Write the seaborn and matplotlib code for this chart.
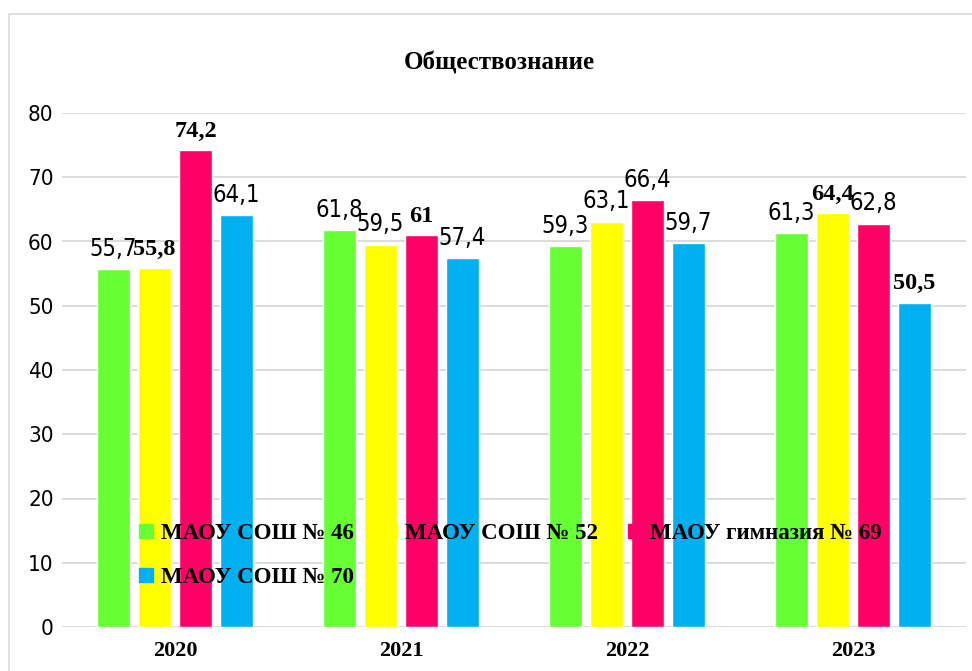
import matplotlib
matplotlib.use("Agg")
import matplotlib.pyplot as plt
from matplotlib.patches import Rectangle
from matplotlib.lines import Line2D
import seaborn as sns
import pandas as pd

# Exam results by school and year
years = ["2020", "2021", "2022", "2023"]
schools = ["МАОУ СОШ № 46", "МАОУ СОШ № 52", "МАОУ гимназия № 69", "МАОУ СОШ № 70"]
school46 = [55.7, 61.8, 59.3, 61.3]
school52 = [55.8, 59.5, 63.1, 64.4]
gymn69 = [74.2, 61.0, 66.4, 62.8]
school70 = [64.1, 57.4, 59.7, 50.5]
colors = ["#66FF33", "#FFFF00", "#FF0066", "#00B0F0"]
title = "Обществознание"

# labels printed in bold serif (per school, per year)
bold_labels = [
    [False, False, False, False],
    [True, False, False, True],
    [True, True, False, False],
    [False, False, False, True],
]

series = [school46, school52, gymn69, school70]
df = pd.DataFrame(
    [(y, s, v) for s, vals in zip(schools, series) for y, v in zip(years, vals)],
    columns=["year", "school", "score"],
)

sns.set_theme(style="white")
plt.rcParams["font.family"] = ["DejaVu Sans"]
plt.rcParams["text.color"] = "black"
plt.rcParams["xtick.color"] = "black"
plt.rcParams["ytick.color"] = "black"

W, H = 972, 671
fig = plt.figure(figsize=(W / 100, H / 100), dpi=100)
ax = fig.add_axes([62 / W, 1 - 627 / H, (966 - 62) / W, (627 - 113) / H])

sns.barplot(
    data=df, x="year", y="score", hue="school", order=years, hue_order=schools,
    palette=colors, width=0.726, gap=0.2, saturation=1, ax=ax, legend=False,
)

ax.set_xlim(-0.5, 3.5)
ax.set_ylim(0, 80)
ax.set_yticks(range(0, 81, 10))
ax.set_xlabel("")
ax.set_ylabel("")
for sp in ax.spines.values():
    sp.set_visible(False)
ax.grid(axis="y", color="#D9D9D9", linewidth=1.3)
ax.set_axisbelow(True)
ax.tick_params(axis="both", length=0)
ax.tick_params(axis="y", pad=6)
ax.tick_params(axis="x", pad=10)

for lbl in ax.get_yticklabels():
    lbl.set_fontfamily("DejaVu Sans")
    lbl.set_fontstretch("condensed")
    lbl.set_fontsize(16)
    lbl.set_color("black")
for lbl in ax.get_xticklabels():
    lbl.set_fontfamily("Liberation Serif")
    lbl.set_fontweight("bold")
    lbl.set_fontsize(16)
    lbl.set_color("black")

def fmt(v):
    s = f"{v:.1f}".replace(".", ",")
    return s[:-2] if s.endswith(",0") else s

for ci, cont in enumerate(ax.containers):
    texts = ax.bar_label(cont, labels=[fmt(v) for v in series[ci]], padding=6,
                         color="black")
    for yi, t in enumerate(texts):
        if bold_labels[ci][yi]:
            t.set_fontfamily("Liberation Serif")
            t.set_fontweight("bold")
            t.set_fontsize(17.5)
        else:
            t.set_fontfamily("DejaVu Sans")
            t.set_fontstretch("condensed")
            t.set_fontsize(17)

handles = [Line2D([], [], marker="s", linestyle="none", markersize=10,
                  markerfacecolor=c, markeredgecolor=c) for c in colors]
# legend is filled column by column; order so rows read 46, 52, 69 / 70
order = [0, 3, 1, 2]
leg = ax.legend(
    [handles[i] for i in order], [schools[i] for i in order],
    ncol=3, loc="upper left",
    bbox_to_anchor=(139 / W, 1 - 523 / H), bbox_transform=fig.transFigure,
    frameon=False, handlelength=0.6, handletextpad=0.35, columnspacing=1.3,
    labelspacing=1.0, borderaxespad=0, borderpad=0,
    prop=dict(family="Liberation Serif", weight="bold", size=16.5),
)
for t in leg.get_texts():
    t.set_color("black")

fig.text(499 / W, 1 - 63 / H, title, ha="center", va="center", color="black",
         fontfamily="Liberation Serif", fontweight="bold", fontsize=18)

fig.patches.append(Rectangle((9 / W, -0.1), 1.2, 1 - 14 / H + 0.1,
                             transform=fig.transFigure, fill=False,
                             edgecolor="#D9D9D9", linewidth=1.2))

fig.savefig("out.png", dpi=100)
